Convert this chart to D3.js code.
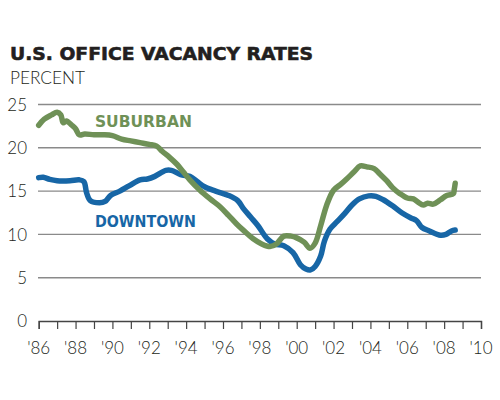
<!DOCTYPE html>
<html><head><meta charset="utf-8">
<script src="https://cdn.jsdelivr.net/npm/d3@7"></script>
<style>body{margin:0;background:#fff}svg{display:block}</style>
</head><body>
<svg id="c" width="500" height="400"></svg>
<script>
const suburbanYears = [1986.0,1986.3,1986.7,1987.0,1987.2,1987.33,1987.5,1987.8,1988.0,1988.2,1988.5,1989.0,1989.5,1990.0,1990.5,1991.0,1991.5,1992.0,1992.4,1992.7,1993.1,1993.5,1993.85,1994.2,1994.75,1995.3,1995.84,1996.3,1996.74,1997.2,1997.64,1998.1,1998.55,1998.9,1999.3,1999.7,2000.0,2000.4,2000.72,2001.0,2001.3,2001.63,2002.0,2002.4,2002.71,2003.1,2003.45,2003.8,2004.2,2004.5,2004.88,2005.2,2005.6,2006.0,2006.33,2006.6,2006.87,2007.1,2007.41,2007.8,2008.14,2008.5,2008.55,2008.6];
const suburbanValues = [22.6,23.3,23.8,24.1,23.8,22.9,23.1,22.6,22.2,21.5,21.6,21.5,21.5,21.4,21.0,20.8,20.6,20.4,20.2,19.6,18.9,18.1,17.2,16.3,15.1,14.1,13.2,12.2,11.2,10.3,9.5,8.9,8.6,8.9,9.8,9.8,9.6,9.1,8.4,9.0,11.0,13.4,15.1,15.8,16.4,17.2,17.9,17.8,17.6,17.0,16.2,15.4,14.7,14.2,14.1,13.7,13.4,13.6,13.5,14.0,14.5,14.7,15.2,15.9];
const downtownYears = [1986.0,1986.25,1986.6,1987.0,1987.7,1988.2,1988.45,1988.6,1988.8,1989.3,1989.6,1989.9,1990.4,1990.9,1991.5,1991.9,1992.3,1992.9,1993.2,1993.7,1994.2,1994.6,1995.0,1995.6,1996.3,1996.8,1997.1,1997.5,1997.9,1998.4,1998.8,1999.3,1999.8,2000.2,2000.5,2000.75,2001.0,2001.3,2001.5,2001.8,2002.2,2002.6,2003.0,2003.4,2003.9,2004.3,2004.7,2005.2,2005.7,2006.2,2006.5,2006.8,2007.2,2007.8,2008.1,2008.4,2008.6];
const downtownValues = [16.55,16.6,16.35,16.2,16.2,16.3,16.1,14.8,13.9,13.65,13.8,14.5,15.0,15.6,16.3,16.4,16.7,17.4,17.4,16.9,16.7,16.1,15.5,15.0,14.5,13.9,13.0,12.0,11.0,9.5,8.9,8.7,7.9,6.5,6.0,5.9,6.3,7.5,9.2,10.6,11.5,12.4,13.4,14.1,14.45,14.4,14.0,13.3,12.5,11.9,11.6,10.8,10.4,9.9,10.0,10.4,10.5];
const yTicks = [0,5,10,15,20,25];
const xTickYears = d3.range(1986, 2011, 1);
const xLabelYears = d3.range(1986, 2011, 2);
const title = "U.S. OFFICE VACANCY RATES";
const unitLabel = "PERCENT";
const seriesLabels = ["SUBURBAN","DOWNTOWN"];

const green = "#6f9157", blue = "#1766a6";
const svg = d3.select("#c");
const x = d3.scaleLinear().domain([1986, 2010]).range([38.7, 481]);
const y = d3.scaleLinear().domain([0, 25]).range([321, 104.5]);

svg.append("text").attr("x", 10).attr("y", 59.5).text(title)
  .attr("font-family", "DejaVu Sans").attr("font-weight", 700).attr("font-size", 18)
  .attr("fill", "#231f20").attr("textLength", 303).attr("lengthAdjust", "spacingAndGlyphs")
  .attr("stroke", "#231f20").attr("stroke-width", 0.6);
svg.append("text").attr("x", 10).attr("y", 84).text(unitLabel)
  .attr("font-family", "Lato").attr("font-weight", 300).attr("font-size", 17)
  .attr("fill", "#231f20").attr("textLength", 75).attr("lengthAdjust", "spacingAndGlyphs");

// gridlines
svg.append("g").selectAll("line").data(yTicks.filter(d => d > 0)).join("line")
  .attr("x1", 38).attr("x2", 481).attr("y1", d => y(d)).attr("y2", d => y(d))
  .attr("stroke", "#8a8a8a").attr("stroke-width", 1.4);

// y labels
svg.append("g").selectAll("text").data(yTicks).join("text")
  .attr("x", 27).attr("y", d => y(d)).attr("dy", "0.36em").attr("text-anchor", "end")
  .text(d => d).attr("font-family", "Lato").attr("font-weight", 300).attr("font-size", 17).attr("fill", "#231f20");

// x axis
const xAxis = d3.axisBottom(x).tickValues(xTickYears).tickSize(8).tickFormat("");
const gx = svg.append("g").attr("transform", `translate(0,${y(0)})`).call(xAxis);
gx.select(".domain").attr("stroke", "#444").attr("stroke-width", 1.4);
gx.selectAll(".tick line").attr("stroke", "#444").attr("stroke-width", 1.2);
svg.append("g").selectAll("text").data(xLabelYears).join("text")
  .attr("x", d => x(d)).attr("y", 354).attr("text-anchor", "middle")
  .text(d => "'" + String(d).slice(2)).attr("font-family", "Lato").attr("font-weight", 300)
  .attr("font-size", 17).attr("fill", "#231f20");

const line = d3.line().x(d => x(d[0])).y(d => y(d[1])).curve(d3.curveCatmullRom.alpha(0.5));
svg.append("path").datum(d3.zip(downtownYears, downtownValues)).attr("d", line)
  .attr("fill", "none").attr("stroke", blue).attr("stroke-width", 5.5).attr("stroke-linejoin", "round").attr("stroke-linecap", "round");
svg.append("path").datum(d3.zip(suburbanYears, suburbanValues)).attr("d", line)
  .attr("fill", "none").attr("stroke", green).attr("stroke-width", 5.5).attr("stroke-linejoin", "round").attr("stroke-linecap", "round");

svg.append("text").attr("x", x(1989.05)).attr("y", y(22.35)).text(seriesLabels[0])
  .attr("font-family", "DejaVu Sans").attr("font-weight", 700).attr("font-size", 15).attr("fill", green)
  .attr("textLength", 97).attr("lengthAdjust", "spacingAndGlyphs");
svg.append("text").attr("x", x(1989.05)).attr("y", y(10.83)).text(seriesLabels[1])
  .attr("font-family", "DejaVu Sans").attr("font-weight", 700).attr("font-size", 15).attr("fill", blue)
  .attr("textLength", 101).attr("lengthAdjust", "spacingAndGlyphs");
</script>
</body></html>
